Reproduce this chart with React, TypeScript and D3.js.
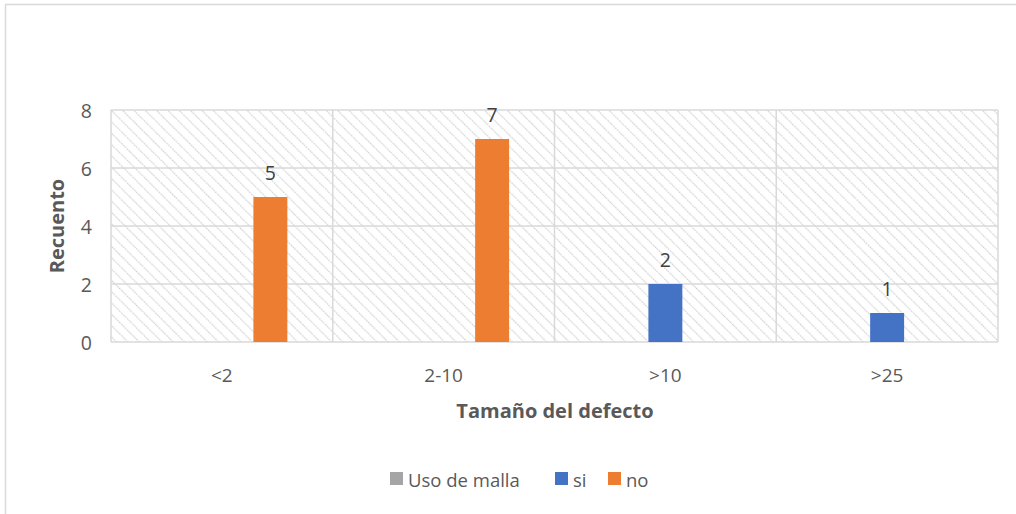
import React from "react";
import * as d3 from "d3";

const categories = ["<2", "2-10", ">10", ">25"];
const seriesNames = ["Uso de malla", "si", "no"];
const seriesColors = ["#a5a5a5", "#4472c4", "#ed7d31"];
const usoDeMalla: (number | null)[] = [null, null, null, null];
const si: (number | null)[] = [null, null, 2, 1];
const no: (number | null)[] = [5, 7, null, null];
const yTicks = [0, 2, 4, 6, 8];

const W = 1016;
const H = 514;
const plot = { left: 111, right: 998, top: 110, bottom: 342 };
const font = "'Open Sans', 'Liberation Sans', sans-serif";
const textColor = "#595959";

export default function App() {
  const x = d3.scaleBand<string>().domain(categories).range([plot.left, plot.right]).padding(0);
  const y = d3.scaleLinear().domain([0, 8]).range([plot.bottom, plot.top]);
  const step = 48.5;
  const inner = d3
    .scaleBand<string>()
    .domain(seriesNames)
    .range([-1.5 * step, 1.5 * step])
    .paddingInner(0.3)
    .paddingOuter(0.15);
  const allSeries = [usoDeMalla, si, no];

  const bars: React.ReactNode[] = [];
  const labels: React.ReactNode[] = [];
  allSeries.forEach((vals, si_) => {
    vals.forEach((v, ci) => {
      if (v == null) return;
      const cx = (x(categories[ci]) as number) + x.bandwidth() / 2;
      const bx = cx + (inner(seriesNames[si_]) as number);
      bars.push(
        <rect key={`b${si_}-${ci}`} x={bx} y={y(v)} width={inner.bandwidth()} height={y(0) - y(v)} fill={seriesColors[si_]} />
      );
      labels.push(
        <text key={`l${si_}-${ci}`} x={bx + inner.bandwidth() / 2} y={y(v) - 25} textAnchor="middle" dominantBaseline="central" fontSize={19.5} fill="#404040" fontFamily={font}>
          {v}
        </text>
      );
    });
  });

  const legendItems = [
    { name: seriesNames[0], color: seriesColors[0], x: 390 },
    { name: seriesNames[1], color: seriesColors[1], x: 555 },
    { name: seriesNames[2], color: seriesColors[2], x: 608 },
  ];

  return (
    <svg width={W} height={H} style={{ position: "absolute", left: 0, top: 0, background: "#fff" }}>
      <defs>
        <pattern id="hatch" patternUnits="userSpaceOnUse" width={8} height={8} patternTransform="rotate(-45)">
          <rect width={8} height={8} fill="#fff" />
          <line x1={0} y1={0} x2={0} y2={8} stroke="#cfcfcf" strokeWidth={2.4} strokeDasharray="1.6 1.2" />
        </pattern>
      </defs>
      <rect x={5.5} y={4.5} width={W + 20} height={H + 20} fill="#fff" stroke="#d9d9d9" strokeWidth={1.5} />
      <rect x={plot.left} y={plot.top} width={plot.right - plot.left} height={plot.bottom - plot.top} fill="url(#hatch)" />
      {yTicks.map((t) => (
        <line key={`g${t}`} x1={plot.left} x2={plot.right} y1={y(t)} y2={y(t)} stroke="#d9d9d9" strokeWidth={1.5} />
      ))}
      {categories.map((c) => (
        <line key={`v${c}`} x1={x(c) as number} x2={x(c) as number} y1={plot.top} y2={plot.bottom} stroke="#d9d9d9" strokeWidth={1.5} />
      ))}
      <line x1={plot.right} x2={plot.right} y1={plot.top} y2={plot.bottom} stroke="#d9d9d9" strokeWidth={1.5} />
      {bars}
      {labels}
      {yTicks.map((t) => (
        <text key={`yt${t}`} x={92} y={y(t)} textAnchor="end" dominantBaseline="central" fontSize={19.5} fill={textColor} fontFamily={font}>
          {t}
        </text>
      ))}
      {categories.map((c) => (
        <text key={`xt${c}`} x={(x(c) as number) + x.bandwidth() / 2} y={375} textAnchor="middle" dominantBaseline="central" fontSize={19} fill={textColor} fontFamily={font}>
          {c}
        </text>
      ))}
      <text x={555} y={410} textAnchor="middle" dominantBaseline="central" fontSize={20} fontWeight="bold" fill={textColor} fontFamily={font}>
        Tamaño del defecto
      </text>
      <text transform="translate(56,226) rotate(-90)" textAnchor="middle" dominantBaseline="central" fontSize={20} fontWeight="bold" fill={textColor} fontFamily={font}>
        Recuento
      </text>
      {legendItems.map((it) => (
        <g key={it.name}>
          <rect x={it.x} y={472} width={13} height={13} fill={it.color} />
          <text x={it.x + 18} y={479} dominantBaseline="central" fontSize={18.5} fill={textColor} fontFamily={font}>
            {it.name}
          </text>
        </g>
      ))}
    </svg>
  );
}
